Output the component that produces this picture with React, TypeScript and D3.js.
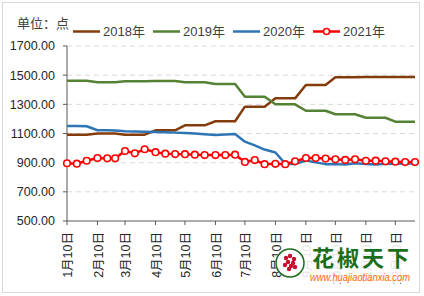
import React from "react";
import * as d3 from "d3";

const W = 424;
const H = 296;

const yTicks = [500, 700, 900, 1100, 1300, 1500, 1700];
const monthLabels = ["1月10日", "2月10日", "3月10日", "4月10日", "5月10日", "6月10日", "7月10日", "8月10日", "9月10日", "10月10日", "11月10日", "12月10日"];
const seriesNames = ["2018年", "2019年", "2020年", "2021年"];

// one point every ten days, 10th / 20th / end of each month
const dates: Date[] = d3.range(36).map((i) => {
  const m = Math.floor(i / 3);
  const k = i % 3;
  const day = k === 0 ? 10 : k === 1 ? 20 : m === 1 ? 28 : 30;
  return new Date(2021, m, day);
});

const v2018 = [1092, 1092, 1092, 1100, 1100, 1100, 1092, 1092, 1092, 1122, 1122, 1122, 1156, 1156, 1156, 1184, 1184, 1184, 1284, 1284, 1284, 1341, 1341, 1341, 1433, 1433, 1433, 1486, 1486, 1486, 1487, 1487, 1488, 1488, 1488, 1488];
const v2019 = [1462, 1462, 1462, 1452, 1452, 1452, 1459, 1459, 1459, 1460, 1460, 1460, 1451, 1451, 1451, 1440, 1440, 1440, 1352, 1352, 1352, 1300, 1300, 1300, 1256, 1256, 1256, 1232, 1232, 1232, 1208, 1208, 1208, 1181, 1181, 1181];
const v2020 = [1152, 1152, 1150, 1122, 1122, 1120, 1115, 1113, 1112, 1110, 1108, 1106, 1104, 1100, 1095, 1090, 1093, 1096, 1044, 1018, 990, 970, 893, 890, 915, 902, 890, 890, 887, 896, 891, 887, 893, 893, 894, 894];
const v2021 = [896, 893, 913, 932, 930, 930, 980, 964, 992, 972, 962, 959, 958, 955, 952, 952, 952, 955, 905, 918, 890, 892, 890, 909, 932, 932, 928, 923, 919, 923, 913, 914, 909, 907, 904, 904];

const colors = ["#843c0c", "#548235", "#2e75b6", "#ff0000"];
const allSeries = [v2018, v2019, v2020, v2021];

const FONT = "'Liberation Sans', Arial, 'Noto Sans CJK SC', sans-serif";

export default function App() {
  const x0 = 67, x1 = 415, yTop = 46, yBot = 221;
  const x = d3.scaleTime().domain([new Date(2021, 0, 10), new Date(2021, 11, 30)]).range([x0, x1]);
  const y = d3.scaleLinear().domain([500, 1700]).range([yBot, yTop]);
  const tickDates = d3.range(12).map((m) => new Date(2021, m, 10));
  const line = d3.line<number>().x((_, i) => x(dates[i])).y((d) => y(d));

  const legendX = [73, 153, 233, 313];

  return (
    <svg width={W} height={H} style={{ position: "absolute", left: 0, top: 0, background: "#fff" }} fontFamily={FONT}>
      <rect x={0} y={0} width={W} height={H} fill="#fff" />
      <rect x={2.5} y={2.5} width={417} height={290} fill="none" stroke="#d9d9d9" />
      <text x={17} y={28} fontSize={13} fill="#404040" fontFamily="'Noto Sans CJK SC', sans-serif">单位：点</text>
      {seriesNames.map((n, i) => (
        <g key={n}>
          <line x1={legendX[i]} x2={legendX[i] + 27} y1={31.5} y2={31.5} stroke={colors[i]} strokeWidth={2.5} />
          {i === 3 && <circle cx={legendX[i] + 13.5} cy={31.5} r={3} fill="#fff" stroke={colors[i]} strokeWidth={1.5} />}
          <text x={legendX[i] + 30} y={36} fontSize={13} fill="#404040">{n}</text>
        </g>
      ))}
      {yTicks.map((t) => (
        <g key={t}>
          {t > 500 && <line x1={x0} x2={x1} y1={y(t)} y2={y(t)} stroke="#d9d9d9" strokeDasharray="5,4" strokeWidth={1} />}
          <line x1={x0 - 4} x2={x0} y1={y(t)} y2={y(t)} stroke="#595959" />
          <text x={55} y={y(t)} dy="0.35em" textAnchor="end" fontSize={12.5} fill="#262626">{d3.format(".2f")(t)}</text>
        </g>
      ))}
      <line x1={x0} x2={x0} y1={yTop} y2={yBot} stroke="#595959" />
      <line x1={x0} x2={x1} y1={yBot} y2={yBot} stroke="#595959" />
      {tickDates.map((d, i) => (
        <g key={i}>
          <line x1={x(d)} x2={x(d)} y1={yBot} y2={yBot + 4} stroke="#595959" />
          <text transform={`translate(${x(d) + 1},232) rotate(-90)`} dy="0.35em" textAnchor="end" fontSize={12.5} fill="#262626">{monthLabels[i]}</text>
        </g>
      ))}
      {allSeries.map((s, i) => (
        <path key={i} d={line(s) || ""} fill="none" stroke={colors[i]} strokeWidth={2.5} strokeLinejoin="round" />
      ))}
      {v2021.map((v, i) => (
        <circle key={i} cx={x(dates[i])} cy={y(v)} r={3.3} fill="#fff" stroke="#ff0000" strokeWidth={1.6} />
      ))}
      {/* watermark */}
      <rect x={298} y={243} width={118} height={40} fill="#fff" opacity={0.88} />
      <circle cx={290} cy={263} r={15} fill="#fff" opacity={0.9} />
      <circle cx={290} cy={263} r={14} fill="none" stroke="#1f6b1f" strokeWidth={1.5} />
      {[[-4, -5], [0, -7], [4, -4], [-2, -1], [3, 0], [-5, 2], [1, 3], [5, 4], [-1, 6]].map(([dx, dy], i) => (
        <circle key={i} cx={290 + dx} cy={263 + dy} r={2.2} fill="#c8102e" />
      ))}
      <text x={312} y={266} fontSize={22} fontWeight="bold" fill="#1a6e1a" fontFamily="'Noto Sans CJK SC', sans-serif" textLength={97} lengthAdjust="spacing">花椒天下</text>
      <text x={310} y={281} fontSize={10} fontStyle="italic" fill="#ff6600" fontFamily={FONT} textLength={100} lengthAdjust="spacingAndGlyphs">www.huajiaotianxia.com</text>
    </svg>
  );
}
